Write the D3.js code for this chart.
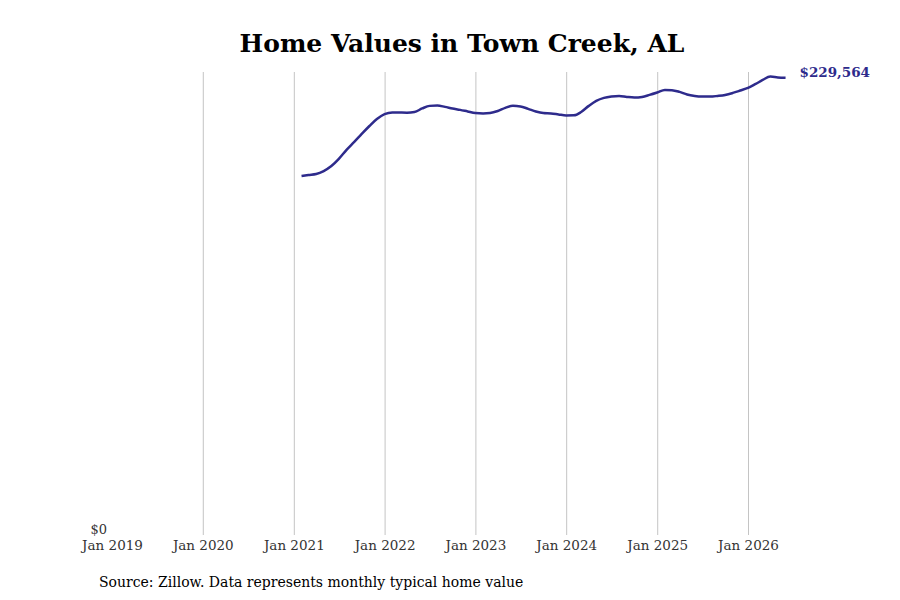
<!DOCTYPE html>
<html>
<head>
<meta charset="utf-8">
<script src="https://cdn.jsdelivr.net/npm/d3@7"></script>
<style>
  body { margin: 0; background: #fff; }
  svg { font-family: "DejaVu Serif", serif; }
</style>
</head>
<body>
<script>
// monthly typical home value, Feb 2021 .. Jun 2026
const startMonth = '2021-02';
const values = [
  180200, 180700, 181200, 182700, 185200, 188800, 193300, 197300, 201300, 205300, 208800,
  211300, 212100, 212050, 212000, 212300, 214100, 215400, 215600, 214900, 214100, 213400, 212600,
  211800, 211600, 211800, 212800, 214400, 215400, 215100, 213900, 212600, 211800, 211600, 211100,
  210600, 210650, 212300, 215400, 217900, 219400, 220100, 220400, 219900, 219600, 219900, 220900,
  222100, 223400, 223300, 222400, 221100, 220400, 220100, 220050, 220400, 220900, 221900, 223100,
  224400, 226400, 228400, 230100, 229700, 229564
];
const yearTicks = [2019, 2020, 2021, 2022, 2023, 2024, 2025, 2026];
const title = 'Home Values in Town Creek, AL';
const source = 'Source: Zillow. Data represents monthly typical home value';

const parseMonth = d3.timeParse('%Y-%m');
const start = parseMonth(startMonth);
const data = values.map((v, i) => ({ date: d3.timeMonth.offset(start, i), value: v }));

const w = 900, h = 600;
const plotTop = 72, plotBottom = 535;

const x = d3.scaleTime()
  .domain([new Date(2019, 0, 1), new Date(2026, 0, 1)])
  .range([112, 748]);

const y = d3.scaleLinear()
  .domain([0, d3.max(values) * 1.01])
  .range([plotBottom, plotTop]);

const svg = d3.select('body').append('svg')
  .attr('width', w)
  .attr('height', h);

svg.append('text')
  .attr('x', 462)
  .attr('y', 52)
  .attr('text-anchor', 'middle')
  .attr('font-size', 25)
  .attr('font-weight', 'bold')
  .attr('fill', '#000')
  .text(title);

// vertical grid + year labels
const xAxis = d3.axisBottom(x)
  .tickValues(yearTicks.map(yr => new Date(yr, 0, 1)))
  .tickFormat(d3.timeFormat('Jan %Y'))
  .tickSize(-(plotBottom - plotTop))
  .tickPadding(5);

const gx = svg.append('g')
  .attr('class', 'x-axis')
  .attr('transform', `translate(0, ${plotBottom})`)
  .call(xAxis);

gx.select('.domain').remove();
gx.selectAll('.tick line').attr('stroke', '#c4c4c4').attr('stroke-width', 1);
gx.selectAll('.tick').filter((d, i) => i === 0).select('line').remove();
gx.selectAll('.tick text')
  .attr('font-family', '"DejaVu Serif", serif')
  .attr('font-size', 13.5)
  .attr('fill', '#333');

// y axis: only $0
const yAxis = d3.axisLeft(y)
  .tickValues([0])
  .tickFormat(d => '$' + d3.format(',')(d))
  .tickSize(0)
  .tickPadding(5);

const gy = svg.append('g')
  .attr('transform', 'translate(112, -6)')
  .call(yAxis);
gy.select('.domain').remove();
gy.selectAll('.tick text')
  .attr('font-family', '"DejaVu Serif", serif')
  .attr('font-size', 13)
  .attr('fill', '#333');

const line = d3.line()
  .x(d => x(d.date))
  .y(d => y(d.value))
  .curve(d3.curveMonotoneX);

svg.append('path')
  .datum(data)
  .attr('fill', 'none')
  .attr('stroke', '#2e2b8c')
  .attr('stroke-width', 2.5)
  .attr('d', line);

const last = data[data.length - 1];
svg.append('text')
  .attr('x', x(last.date) + 14)
  .attr('y', plotTop + 5)
  .attr('font-size', 13.5)
  .attr('font-weight', 'bold')
  .attr('fill', '#2e2b8c')
  .text('$' + d3.format(',')(last.value));

svg.append('text')
  .attr('x', 99)
  .attr('y', 587)
  .attr('font-size', 14)
  .attr('fill', '#000')
  .text(source);
</script>
</body>
</html>
